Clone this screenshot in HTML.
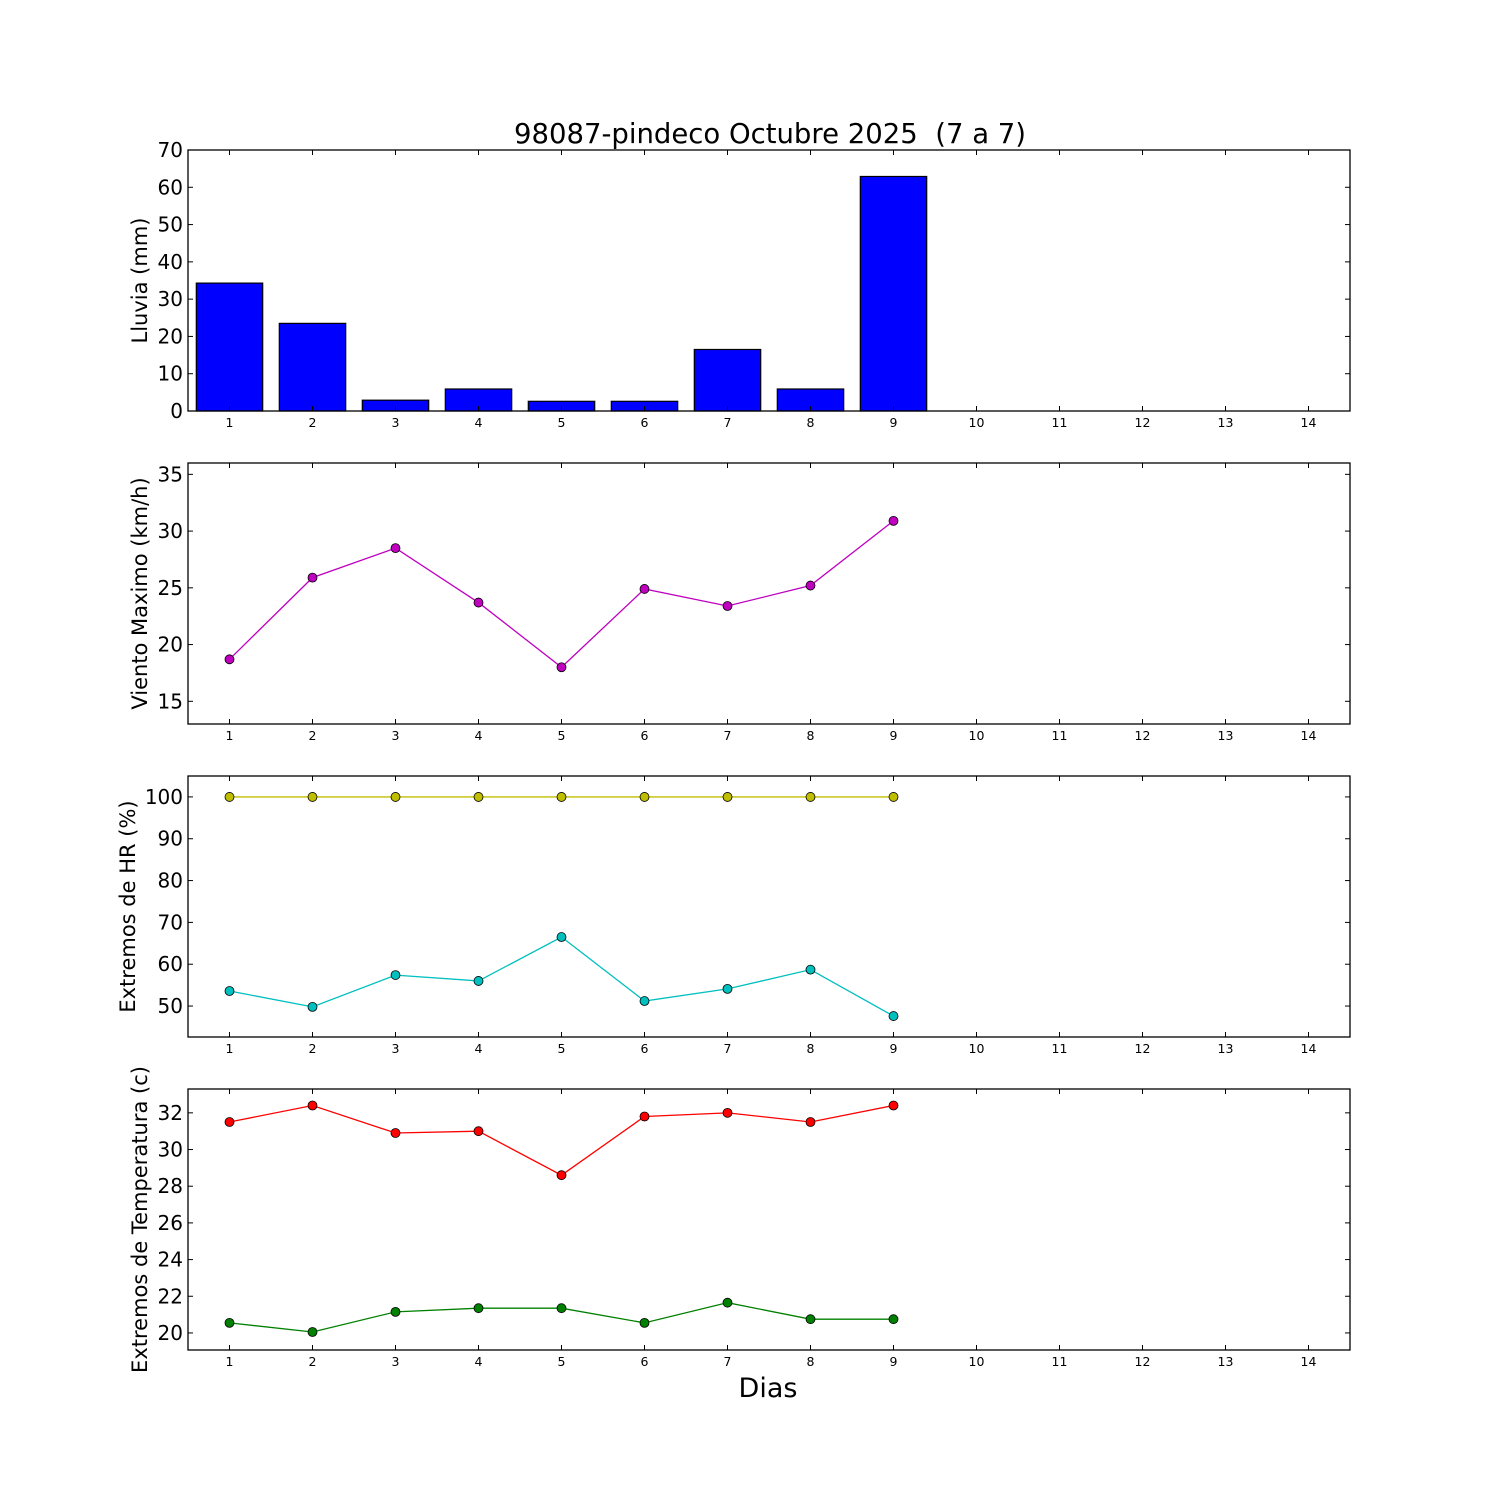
<!DOCTYPE html>
<html><head><meta charset="utf-8"><style>
body{margin:0;background:#fff}
svg{display:block;font-family:"DejaVu Sans","Liberation Sans",sans-serif}
</style></head><body>
<svg id="chart" width="1500" height="1500" viewBox="0 0 1500 1500">
<rect width="1500" height="1500" fill="#fff"/>
<text x="770" y="143" font-size="27.5" text-anchor="middle" style="white-space:pre" xml:space="preserve">98087-pindeco Octubre 2025  (7 a 7)</text>
<text x="768" y="1397" font-size="27" text-anchor="middle">Dias</text>
</svg>
<script>
const days = [1,2,3,4,5,6,7,8,9];
const xTicks = [1,2,3,4,5,6,7,8,9,10,11,12,13,14];
const rain = [34.3,23.5,2.9,5.9,2.6,2.6,16.5,5.9,62.9];
const wind = [18.7,25.9,28.5,23.7,18.0,24.9,23.4,25.2,30.9];
const hrMax = [100,100,100,100,100,100,100,100,100];
const hrMin = [53.6,49.8,57.4,56.0,66.5,51.2,54.1,58.7,47.6];
const tMax = [31.5,32.4,30.9,31.0,28.6,31.8,32.0,31.5,32.4];
const tMin = [20.55,20.05,21.15,21.35,21.35,20.55,21.65,20.75,20.75];
const rainTicks = [0,10,20,30,40,50,60,70];
const windTicks = [15,20,25,30,35];
const hrTicks = [50,60,70,80,90,100];
const tTicks = [20,22,24,26,28,30,32];

const svg = document.getElementById('chart');
const NS = 'http://www.w3.org/2000/svg';
function mk(tag, attrs, parent){const e=document.createElementNS(NS,tag);for(const k in attrs)e.setAttribute(k,attrs[k]);(parent||svg).appendChild(e);return e;}
const L=188,R=1350;
const xs = d => L + (d-0.5)/14*(R-L);

const panels = [
 {top:150,bot:411,ymin:0,ymax:70,ticks:rainTicks,label:'Lluvia (mm)',lx:147,name:'rain'},
 {top:463,bot:724,ymin:13,ymax:36,ticks:windTicks,label:'Viento Maximo (km/h)',lx:147,name:'wind'},
 {top:776,bot:1037,ymin:42.6,ymax:105,ticks:hrTicks,label:'Extremos de HR (%)',lx:135,name:'hr'},
 {top:1089,bot:1350,ymin:19.07,ymax:33.3,ticks:tTicks,label:'Extremos de Temperatura (c)',lx:147,name:'temp'}
];
panels.forEach((p,pi)=>{
  const ys = v => p.bot - (v-p.ymin)/(p.ymax-p.ymin)*(p.bot-p.top);
  const g = mk('g',{});
  
  
  if(pi===0){
    rain.forEach((v,i)=>{
      const b = mk('rect',{x:xs(days[i])-0.4*83,y:ys(v),width:0.8*83,height:ys(0)-ys(v),fill:'#0000ff',stroke:'#000','stroke-width':1.2},g);
      
      
    });
  }
  function series(vals,color,nm){
    const pl = mk('polyline',{points:vals.map((v,i)=>xs(days[i])+','+ys(v)).join(' '),fill:'none',stroke:color,'stroke-width':1.3},g);
    
    
    vals.forEach((v,i)=>{
      const c = mk('circle',{cx:xs(days[i]),cy:ys(v),r:4.5,fill:color,stroke:'#000','stroke-width':0.8},g);
      
      
    });
  }
  if(pi===1) series(wind,'#bf00bf','wind');
  if(pi===2){ series(hrMax,'#bfbf00','hr-max'); series(hrMin,'#00bfbf','hr-min'); }
  if(pi===3){ series(tMax,'#ff0000','temp-max'); series(tMin,'#008000','temp-min'); }
  const fr = mk('rect',{x:L,y:p.top,width:R-L,height:p.bot-p.top,fill:'none',stroke:'#000','stroke-width':1.3},g);
  
  
  xTicks.forEach(d=>{
    const x=xs(d);
    mk('line',{x1:x,x2:x,y1:p.bot,y2:p.bot-5,stroke:'#000'},g);
    mk('line',{x1:x,x2:x,y1:p.top,y2:p.top+5,stroke:'#000'},g);
    const t = mk('text',{x:x,y:p.bot+16,'font-size':12.5,'text-anchor':'middle'},g);
    t.textContent=d;
    
    
  });
  p.ticks.forEach(v=>{
    const y=ys(v);
    mk('line',{x1:L,x2:L+5,y1:y,y2:y,stroke:'#000'},g);
    mk('line',{x1:R,x2:R-5,y1:y,y2:y,stroke:'#000'},g);
    const t = mk('text',{x:L-5,y:y+7,'font-size':20,'text-anchor':'end'},g);
    t.textContent=v;
    
    
  });
  const cy=(p.top+p.bot)/2;
  const lb = mk('text',{x:p.lx,y:cy,'font-size':21,'text-anchor':'middle',transform:'rotate(-90 '+p.lx+' '+cy+')'},g);
  lb.textContent=p.label;
  
  
});
</script>
</body></html>
